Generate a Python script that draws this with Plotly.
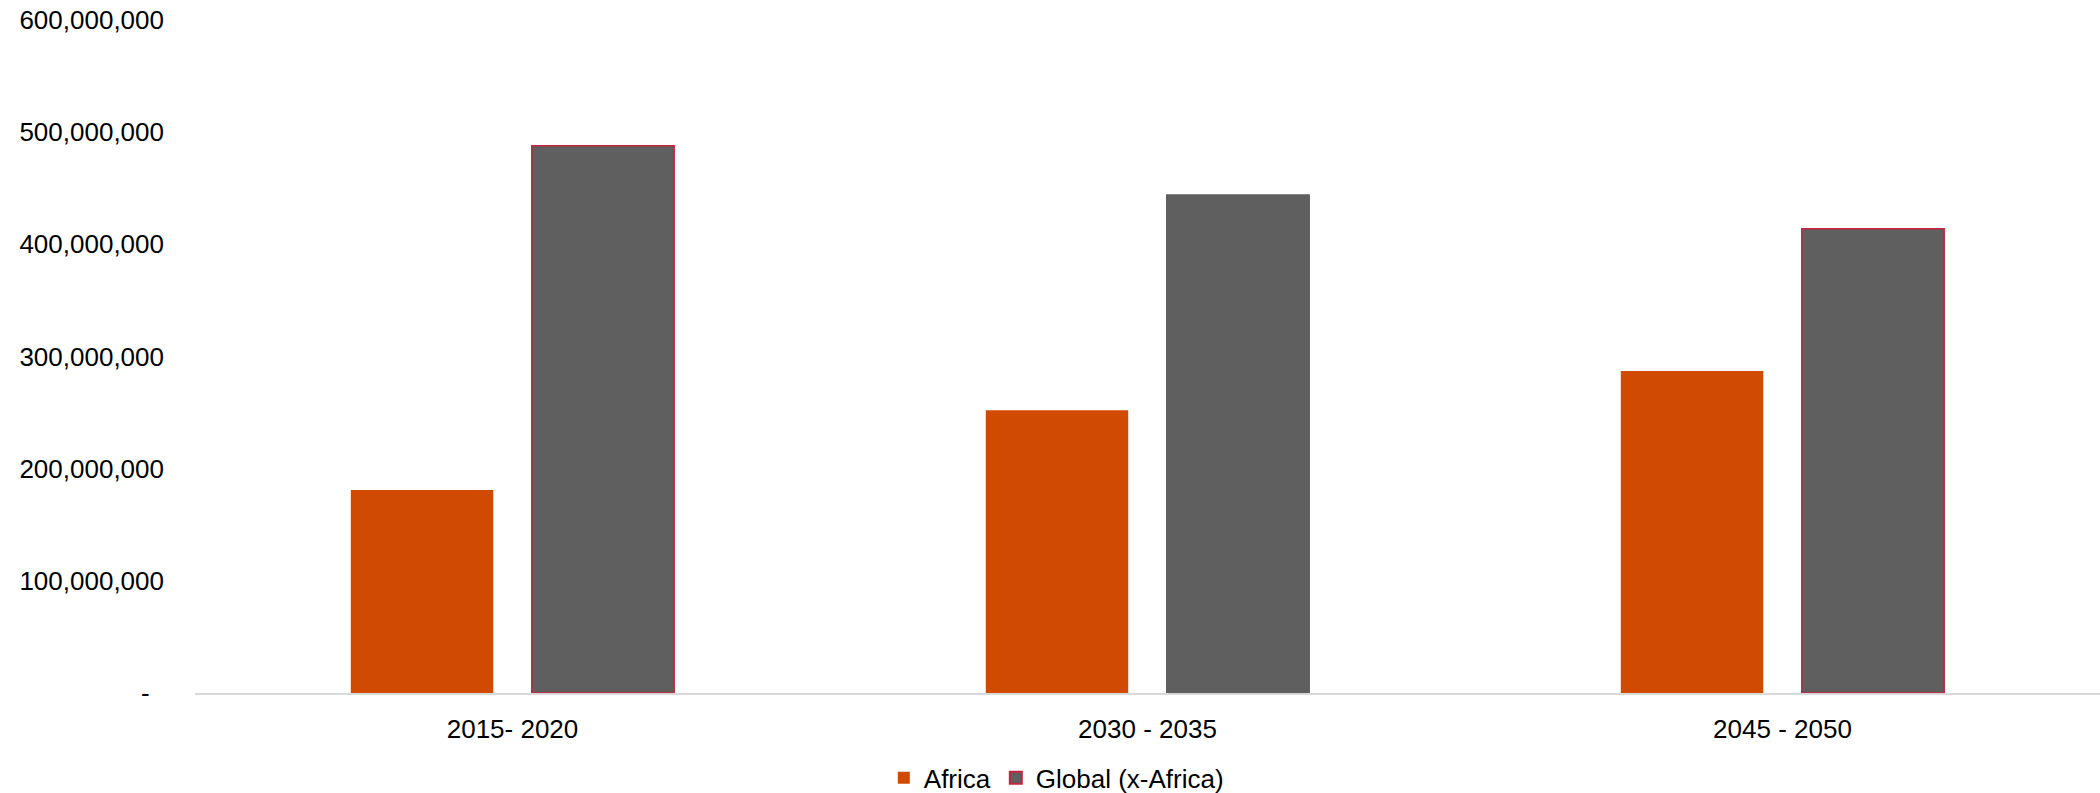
import plotly.graph_objects as go

categories = ["2015- 2020", "2030 - 2035", "2045 - 2050"]
africa = [181_000_000, 252_000_000, 287_000_000]
global_x_africa = [488_000_000, 444_000_000, 414_000_000]
tick_vals = [0, 100_000_000, 200_000_000, 300_000_000, 400_000_000, 500_000_000, 600_000_000]
tick_text = ["-\u00a0\u00a0", "100,000,000", "200,000,000", "300,000,000",
             "400,000,000", "500,000,000", "600,000,000"]

ORANGE = "#D04A02"
GRAY = "#5F5F5F"
RED = "#C8243C"
FONT = "Liberation Sans, Arial, sans-serif"

fig = go.Figure()
fig.add_trace(go.Bar(
    x=categories, y=africa, name="Africa",
    marker=dict(color=ORANGE, line=dict(width=0)),
))
fig.add_trace(go.Bar(
    x=categories, y=global_x_africa, name="Global (x-Africa)",
    marker=dict(color=GRAY,
                line=dict(color=[RED, GRAY, RED], width=1.5)),
))

fig.update_layout(
    width=2100, height=793,
    margin=dict(l=195, r=0, t=20, b=100),
    paper_bgcolor="white", plot_bgcolor="white",
    barmode="group", bargap=0.43, bargroupgap=0.213,
    font=dict(family=FONT, size=26, color="#000000"),
    showlegend=True,
    legend=dict(orientation="h", xref="container", x=0.503, xanchor="center",
                yref="container", y=0.019, yanchor="middle",
                font=dict(family=FONT, size=26, color="#000000"),
                itemsizing="constant", traceorder="normal"),
    xaxis=dict(showline=True, linecolor="#D9D9D9", linewidth=2,
               showgrid=False, zeroline=False, ticks="",
               ticklabelstandoff=12,
               tickfont=dict(family=FONT, size=26, color="#000000")),
    yaxis=dict(range=[0, 600_000_000], tickvals=tick_vals, ticktext=tick_text,
               showgrid=False, zeroline=False, showline=False, ticks="",
               ticklabelstandoff=30,
               tickfont=dict(family=FONT, size=26, color="#000000")),
)

fig.write_html("out.html")
